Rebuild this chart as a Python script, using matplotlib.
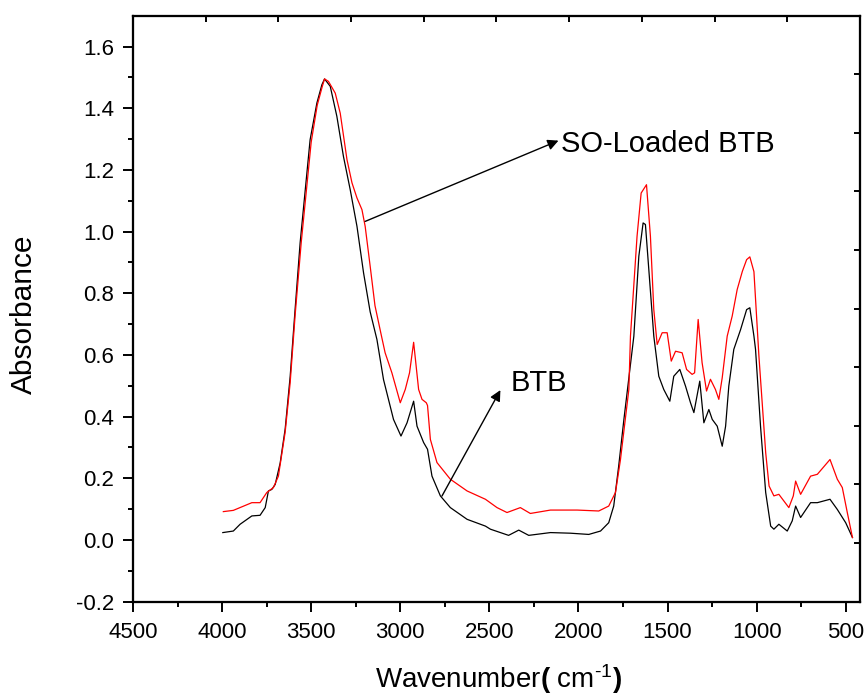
import matplotlib
matplotlib.use("Agg")
import matplotlib.pyplot as plt

# ---- data ----
btb_wn = [3996, 3937, 3899, 3833, 3787, 3758, 3740, 3721, 3702, 3674, 3646, 3618, 3590,
          3562, 3506, 3468, 3440, 3425, 3393, 3356, 3319, 3281, 3243, 3206, 3169, 3131,
          3094, 3038, 2996, 2962, 2925, 2906, 2869, 2847, 2822, 2775, 2719, 2625, 2522,
          2494, 2392, 2335, 2279, 2157, 2045, 1942, 1876, 1830, 1802, 1774, 1745, 1689,
          1661, 1637, 1624, 1605, 1577, 1549, 1521, 1487, 1465, 1431, 1399, 1371, 1352,
          1319, 1296, 1268, 1249, 1221, 1193, 1174, 1156, 1128, 1090, 1056, 1038, 1015,
          1006, 978, 949, 921, 903, 875, 828, 800, 781, 753, 697, 659, 588, 547, 500, 462]
btb_abs = [0.024, 0.029, 0.051, 0.078, 0.080, 0.105, 0.159, 0.164, 0.180, 0.250, 0.360, 0.530, 0.750,
           0.964, 1.298, 1.417, 1.476, 1.495, 1.471, 1.374, 1.244, 1.136, 1.017, 0.866, 0.740, 0.650,
           0.520, 0.391, 0.337, 0.380, 0.450, 0.369, 0.316, 0.294, 0.207, 0.143, 0.105, 0.067, 0.045,
           0.035, 0.015, 0.032, 0.015, 0.024, 0.022, 0.018, 0.029, 0.056, 0.110, 0.240, 0.390, 0.661,
           0.920, 1.028, 1.023, 0.877, 0.661, 0.531, 0.488, 0.450, 0.531, 0.553, 0.499, 0.445, 0.413,
           0.515, 0.380, 0.423, 0.391, 0.369, 0.304, 0.369, 0.499, 0.618, 0.682, 0.747, 0.753, 0.661,
           0.618, 0.369, 0.154, 0.045, 0.035, 0.051, 0.029, 0.062, 0.110, 0.073, 0.121, 0.121, 0.132,
           0.099, 0.056, 0.008]

so_wn = [3993, 3937, 3833, 3787, 3749, 3712, 3684, 3646, 3618, 3590, 3556, 3500, 3466, 3438,
         3425, 3403, 3365, 3337, 3299, 3271, 3243, 3215, 3197, 3169, 3142, 3105, 3085, 3047,
         3000, 2972, 2948, 2925, 2897, 2878, 2854, 2847, 2831, 2794, 2719, 2625, 2522, 2457,
         2401, 2326, 2270, 2157, 2007, 1886, 1830, 1792, 1764, 1717, 1708, 1671, 1648, 1618,
         1596, 1577, 1558, 1530, 1502, 1479, 1455, 1418, 1393, 1362, 1348, 1328, 1306, 1281,
         1259, 1231, 1212, 1193, 1165, 1137, 1109, 1080, 1056, 1038, 1015, 987, 949, 930, 903,
         875, 819, 794, 781, 753, 697, 659, 588, 547, 519, 491, 462]
so_abs = [0.092, 0.096, 0.121, 0.121, 0.154, 0.170, 0.207, 0.350, 0.510, 0.730, 0.964, 1.290, 1.410, 1.470,
          1.495, 1.487, 1.449, 1.384, 1.233, 1.158, 1.109, 1.071, 1.017, 0.888, 0.760, 0.660, 0.607, 0.542,
          0.445, 0.488, 0.542, 0.641, 0.488, 0.456, 0.445, 0.436, 0.326, 0.251, 0.197, 0.159, 0.132, 0.105,
          0.089, 0.105, 0.086, 0.097, 0.097, 0.094, 0.110, 0.154, 0.261, 0.488, 0.661, 0.985, 1.125, 1.152,
          0.985, 0.747, 0.634, 0.672, 0.672, 0.580, 0.612, 0.607, 0.553, 0.537, 0.542, 0.715, 0.575, 0.483,
          0.521, 0.488, 0.456, 0.526, 0.661, 0.726, 0.812, 0.871, 0.909, 0.918, 0.870, 0.596, 0.283, 0.175, 0.143,
          0.148, 0.105, 0.143, 0.191, 0.148, 0.207, 0.213, 0.261, 0.197, 0.170, 0.089, 0.008]

x_ticks = [4500, 4000, 3500, 3000, 2500, 2000, 1500, 1000, 500]
y_ticks = [-0.2, 0.0, 0.2, 0.4, 0.6, 0.8, 1.0, 1.2, 1.4, 1.6]

plt.rcParams['font.family'] = ['Liberation Sans', 'DejaVu Sans']
plt.rcParams['mathtext.fontset'] = 'custom'
plt.rcParams['mathtext.rm'] = 'Liberation Sans'
plt.rcParams['mathtext.bf'] = 'Liberation Sans:bold'
plt.rcParams['mathtext.it'] = 'Liberation Sans:italic'

fig = plt.figure(figsize=(8.66, 6.95), dpi=100)
ax = fig.add_axes([0.1536, 0.1343, 0.8394, 0.8431])

ax.plot(btb_wn, btb_abs, color='black', lw=0.9)
ax.plot(so_wn, so_abs, color='red', lw=0.9)

ax.set_xlim(4500, 420)
ax.set_ylim(-0.2, 1.7)
ax.set_xticks(x_ticks)
ax.set_xticklabels([str(v) for v in x_ticks])
ax.set_yticks(y_ticks)
ax.set_yticklabels(['%.1f' % v for v in y_ticks])
ax.set_xticks([4250, 3750, 3250, 2750, 2250, 1750, 1250, 750], minor=True)
ax.set_yticks([-0.1, 0.1, 0.3, 0.5, 0.7, 0.9, 1.1, 1.3, 1.5], minor=True)
ax.tick_params(which='major', direction='out', length=7, width=1.4, labelsize=16)
ax.tick_params(axis='x', which='major', pad=8)
ax.tick_params(axis='y', which='major', pad=6.5)
ax.tick_params(which='minor', direction='out', length=3.6, width=1.4)
for s in ax.spines.values():
    s.set_linewidth(1.5)

# top and right decorative ticks (10 divisions, inward)
axt = ax.twiny()
axt.set_xlim(0, 1)
axt.set_xticks([i / 10 for i in range(11)])
axt.tick_params(axis='x', direction='in', length=4.5, width=1.4, labeltop=False)
axr = ax.twinx()
axr.set_ylim(0, 1)
axr.set_yticks([i / 10 for i in range(11)])
axr.tick_params(axis='y', direction='in', length=4.5, width=1.4, labelright=False)
for a in (axt, axr):
    for s in a.spines.values():
        s.set_linewidth(1.5)

ax.set_ylabel('Absorbance', fontsize=21.5)
ax.yaxis.set_label_coords(-0.131, 0.49)
ax.set_xlabel(r'Wavenumber$\mathbf{(}$ cm$^{\text{-}1}$$\mathbf{)}$', fontsize=20)
ax.xaxis.set_label_coords(0.503, -0.104)

ax.annotate('', xy=(2112, 1.295), xytext=(3197, 1.033),
            arrowprops=dict(arrowstyle='-|>', color='black', lw=1.0, mutation_scale=16,
                            shrinkA=0, shrinkB=0), zorder=5)
ax.text(2100, 1.285, 'SO-Loaded BTB', fontsize=21, va='center', ha='left')

ax.annotate('', xy=(2438, 0.486), xytext=(2766, 0.1425),
            arrowprops=dict(arrowstyle='-|>', color='black', lw=1.0, mutation_scale=16,
                            shrinkA=0, shrinkB=0), zorder=5)
ax.text(2382, 0.508, 'BTB', fontsize=21, va='center', ha='left')

fig.savefig('out.png', dpi=100)
